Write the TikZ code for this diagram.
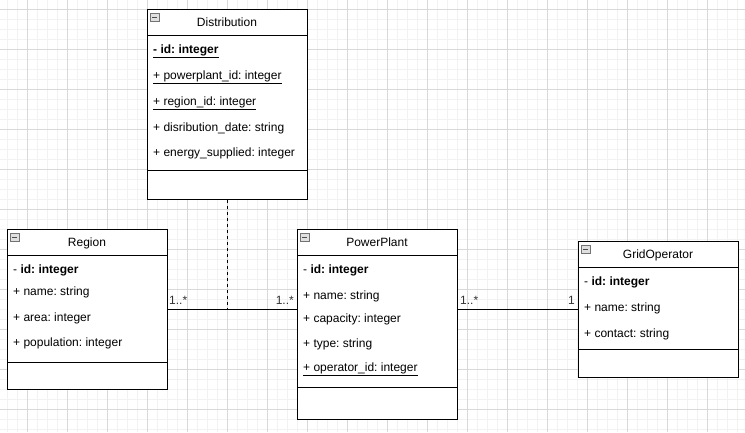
\documentclass[tikz,border=0pt]{standalone}
\usepackage{fontspec}
\setmainfont{Liberation Sans}
\frenchspacing
\begin{document}
\begin{tikzpicture}[x=1pt,y=-1pt,
  classbox/.style={draw=black,line width=1pt,fill=white,minimum width=160pt,anchor=north west,inner sep=0pt},
  attr/.style={anchor=base west,inner sep=0pt,font=\fontsize{12}{14}\selectfont},
  title/.style={anchor=base,inner sep=0pt,font=\fontsize{12}{14}\selectfont},
  mult/.style={inner sep=0pt,font=\fontsize{12}{14}\selectfont,text=black!80},
  link/.style={draw=black,line width=1pt},
  icon/.style={draw=black!55,fill=black!12,line width=0.6pt}]
\useasboundingbox (0,0) rectangle (745,432);
\fill[white] (0,0) rectangle (745,432);
% background grid: faint minor lines and stronger major lines
\foreach \x in {7,17,...,745} \draw[black!5,line width=0.6pt] (\x,0) -- (\x,432);
\foreach \y in {9,19,...,432} \draw[black!5,line width=0.6pt] (0,\y) -- (745,\y);
\foreach \x in {27,67,...,745} \draw[black!15,line width=0.8pt] (\x,0) -- (\x,432);
\foreach \y in {9,49,...,432} \draw[black!15,line width=0.8pt] (0,\y) -- (745,\y);

% class frames
\node[classbox,minimum height=190pt] (dist) at (147,9) {};
\node[classbox,minimum height=160pt] (region) at (7,229) {};
\node[classbox,minimum height=190pt] (pp) at (297,229) {};
\node[classbox,minimum height=136pt] (go) at (578,241) {};

% compartments
\draw[line width=1pt] (147,35.5) -- (307,35.5) (147,170) -- (307,170);
\draw[line width=1pt] (7,255.5) -- (167,255.5) (7,362) -- (167,362);
\draw[line width=1pt] (297,255.5) -- (457,255.5) (297,387) -- (457,387);
\draw[line width=1pt] (578,267.5) -- (738,267.5) (578,349) -- (738,349);

% collapse icons
\foreach \ix/\iy in {150/13,10/233,300/233,581/245}{
  \draw[icon] (\ix,\iy) rectangle ++(9,8);
  \draw[black!70,line width=0.8pt] (\ix+2,\iy+4) -- (\ix+7,\iy+4);
}

% Distribution
\node[title] (distT) at (227,26) {Distribution};
\node[attr] (d1) at (153,53) {\underline{\textbf{- id: integer}}};
\node[attr] (d2) at (153,79) {\underline{+ powerplant\_id: integer}};
\node[attr] (d3) at (153,105) {\underline{+ region\_id: integer}};
\node[attr] (d4) at (153,131) {+ disribution\_date: string};
\node[attr] (d5) at (153,156) {+ energy\_supplied: integer};

% Region
\node[title] (regionT) at (87,246) {Region};
\node[attr] (r1) at (13,273) {- \textbf{id: integer}};
\node[attr] (r2) at (13,295) {+ name: string};
\node[attr] (r3) at (13,321) {+ area: integer};
\node[attr] (r4) at (13,346) {+ population: integer};

% PowerPlant
\node[title] (ppT) at (377,246) {PowerPlant};
\node[attr] (p1) at (303,273) {- \textbf{id: integer}};
\node[attr] (p2) at (303,299) {+ name: string};
\node[attr] (p3) at (303,322) {+ capacity: integer};
\node[attr] (p4) at (303,347) {+ type: string};
\node[attr] (p5) at (303,371) {\underline{+ operator\_id: integer}};

% GridOperator
\node[title] (goT) at (658,258) {GridOperator};
\node[attr] (g1) at (584,285) {- \textbf{id: integer}};
\node[attr] (g2) at (584,311) {+ name: string};
\node[attr] (g3) at (584,337) {+ contact: string};

% associations
\coordinate (join) at (dist.south |- region.east);
\draw[link] (region.east) -- (region.east -| pp.west);
\draw[link] (pp.east |- go.west) -- (go.west);
\draw[link,dashed,dash pattern=on 3pt off 3pt] (dist.south) -- (join);

% multiplicities
\node[mult,anchor=south west] (m1) at (169,305) {1..*};
\node[mult,anchor=south east] (m2) at (294,305) {1..*};
\node[mult,anchor=south west] (m3) at (460,305) {1..*};
\node[mult,anchor=south east] (m4) at (575,305) {1};
\end{tikzpicture}
\end{document}
